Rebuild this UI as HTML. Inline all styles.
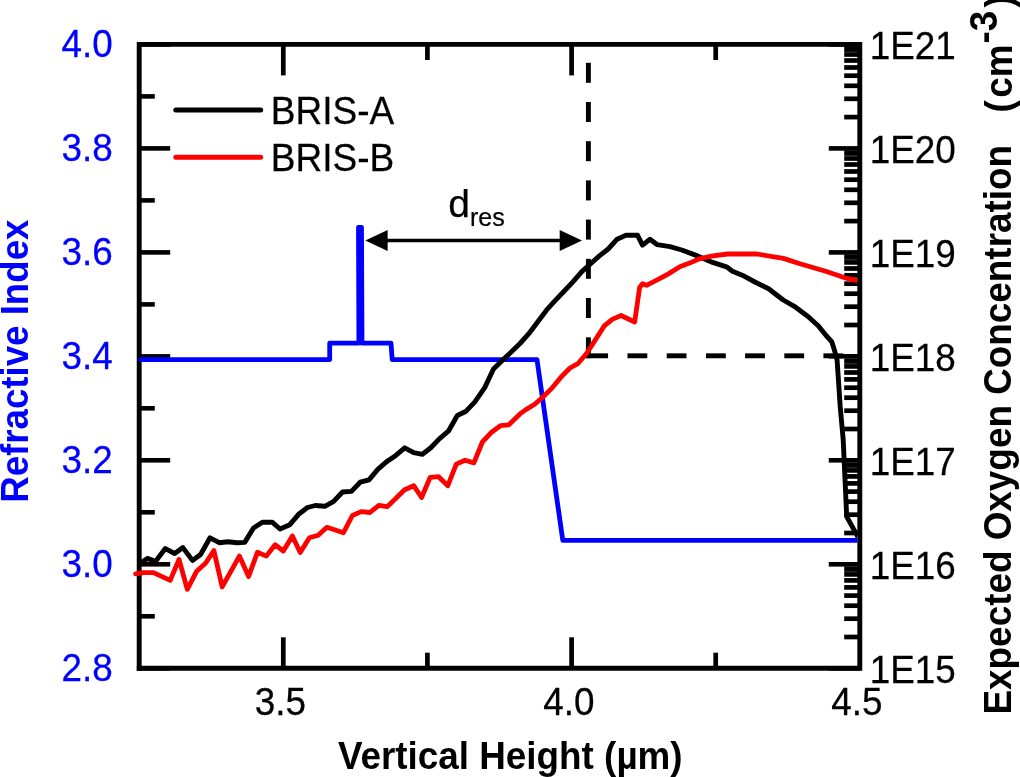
<!DOCTYPE html>
<html lang="en"><head><meta charset="utf-8"><title>Refractive index and oxygen concentration</title>
<style>html,body{margin:0;padding:0;background:#fff}body{width:1020px;height:777px;overflow:hidden}svg{display:block}text{font-family:"Liberation Sans",sans-serif}</style></head><body>
<svg width="1020" height="777" viewBox="0 0 1020 777">
<rect width="1020" height="777" fill="#fff"/>
<defs><clipPath id="c1"><rect x="138.8" y="0" width="718.6" height="777"/></clipPath><clipPath id="c2"><rect x="130" y="0" width="727.4" height="777"/></clipPath></defs>
<g stroke="#000" stroke-width="4.9" fill="none" stroke-linecap="butt">
<polyline points="859.8,44.4 139.2,44.4 139.2,670.8" />
<line x1="136.8" y1="668.3" x2="859.8" y2="668.3"/>
<line x1="139.2" y1="668.3" x2="170.2" y2="668.3" stroke-width="4.6"/>
<line x1="139.2" y1="616.3" x2="154.8" y2="616.3" stroke-width="4.6"/>
<line x1="139.2" y1="564.3" x2="170.2" y2="564.3" stroke-width="4.6"/>
<line x1="139.2" y1="512.3" x2="154.8" y2="512.3" stroke-width="4.6"/>
<line x1="139.2" y1="460.3" x2="170.2" y2="460.3" stroke-width="4.6"/>
<line x1="139.2" y1="408.3" x2="154.8" y2="408.3" stroke-width="4.6"/>
<line x1="139.2" y1="356.4" x2="170.2" y2="356.4" stroke-width="4.6"/>
<line x1="139.2" y1="304.4" x2="154.8" y2="304.4" stroke-width="4.6"/>
<line x1="139.2" y1="252.4" x2="170.2" y2="252.4" stroke-width="4.6"/>
<line x1="139.2" y1="200.4" x2="154.8" y2="200.4" stroke-width="4.6"/>
<line x1="139.2" y1="148.4" x2="170.2" y2="148.4" stroke-width="4.6"/>
<line x1="139.2" y1="96.4" x2="154.8" y2="96.4" stroke-width="4.6"/>
<line x1="139.2" y1="44.4" x2="170.2" y2="44.4" stroke-width="4.6"/>
<line x1="283.3" y1="668.3" x2="283.3" y2="637.3" stroke-width="4.7"/>
<line x1="283.3" y1="44.4" x2="283.3" y2="75.4" stroke-width="4.7"/>
<line x1="427.4" y1="668.3" x2="427.4" y2="652.7" stroke-width="4.7"/>
<line x1="427.4" y1="44.4" x2="427.4" y2="60.0" stroke-width="4.7"/>
<line x1="571.6" y1="668.3" x2="571.6" y2="637.3" stroke-width="4.7"/>
<line x1="571.6" y1="44.4" x2="571.6" y2="75.4" stroke-width="4.7"/>
<line x1="715.7" y1="668.3" x2="715.7" y2="652.7" stroke-width="4.7"/>
<line x1="715.7" y1="44.4" x2="715.7" y2="60.0" stroke-width="4.7"/>
</g>
<polyline clip-path="url(#c1)" points="139.2,359.6 329.7,359.6 329.7,343.2 358.9,343.2 358.5,227.4 361.5,227.4 362.0,343.2 391.0,343.2 392.2,359.6 537.0,359.6 562.8,540.4 859.8,540.4" fill="none" stroke="#0000ff" stroke-width="4.8" stroke-linejoin="round"/>
<g stroke="#000" fill="none">
<line x1="859.8" y1="668.3" x2="828.8" y2="668.3" stroke-width="4.6"/>
<line x1="859.8" y1="637.0" x2="844.2" y2="637.0" stroke-width="4.7"/>
<line x1="859.8" y1="618.7" x2="844.2" y2="618.7" stroke-width="4.7"/>
<line x1="859.8" y1="605.7" x2="844.2" y2="605.7" stroke-width="4.7"/>
<line x1="859.8" y1="595.6" x2="844.2" y2="595.6" stroke-width="4.7"/>
<line x1="859.8" y1="587.4" x2="844.2" y2="587.4" stroke-width="4.7"/>
<line x1="859.8" y1="580.4" x2="844.2" y2="580.4" stroke-width="4.7"/>
<line x1="859.8" y1="574.4" x2="844.2" y2="574.4" stroke-width="4.7"/>
<line x1="859.8" y1="569.1" x2="844.2" y2="569.1" stroke-width="5.5"/>
<line x1="859.8" y1="564.3" x2="828.8" y2="564.3" stroke-width="4.6"/>
<line x1="859.8" y1="533.0" x2="844.2" y2="533.0" stroke-width="4.7"/>
<line x1="859.8" y1="514.7" x2="844.2" y2="514.7" stroke-width="4.7"/>
<line x1="859.8" y1="501.7" x2="844.2" y2="501.7" stroke-width="4.7"/>
<line x1="859.8" y1="491.6" x2="844.2" y2="491.6" stroke-width="4.7"/>
<line x1="859.8" y1="483.4" x2="844.2" y2="483.4" stroke-width="4.7"/>
<line x1="859.8" y1="476.4" x2="844.2" y2="476.4" stroke-width="4.7"/>
<line x1="859.8" y1="470.4" x2="844.2" y2="470.4" stroke-width="4.7"/>
<line x1="859.8" y1="465.1" x2="844.2" y2="465.1" stroke-width="5.5"/>
<line x1="859.8" y1="460.3" x2="828.8" y2="460.3" stroke-width="4.6"/>
<line x1="859.8" y1="429.0" x2="844.2" y2="429.0" stroke-width="4.7"/>
<line x1="859.8" y1="410.7" x2="844.2" y2="410.7" stroke-width="4.7"/>
<line x1="859.8" y1="397.7" x2="844.2" y2="397.7" stroke-width="4.7"/>
<line x1="859.8" y1="387.7" x2="844.2" y2="387.7" stroke-width="4.7"/>
<line x1="859.8" y1="379.4" x2="844.2" y2="379.4" stroke-width="4.7"/>
<line x1="859.8" y1="372.5" x2="844.2" y2="372.5" stroke-width="4.7"/>
<line x1="859.8" y1="366.4" x2="844.2" y2="366.4" stroke-width="4.7"/>
<line x1="859.8" y1="361.1" x2="844.2" y2="361.1" stroke-width="5.5"/>
<line x1="859.8" y1="356.3" x2="828.8" y2="356.3" stroke-width="4.6"/>
<line x1="859.8" y1="325.0" x2="844.2" y2="325.0" stroke-width="4.7"/>
<line x1="859.8" y1="306.7" x2="844.2" y2="306.7" stroke-width="4.7"/>
<line x1="859.8" y1="293.7" x2="844.2" y2="293.7" stroke-width="4.7"/>
<line x1="859.8" y1="283.7" x2="844.2" y2="283.7" stroke-width="4.7"/>
<line x1="859.8" y1="275.4" x2="844.2" y2="275.4" stroke-width="4.7"/>
<line x1="859.8" y1="268.5" x2="844.2" y2="268.5" stroke-width="4.7"/>
<line x1="859.8" y1="262.4" x2="844.2" y2="262.4" stroke-width="4.7"/>
<line x1="859.8" y1="257.1" x2="844.2" y2="257.1" stroke-width="5.5"/>
<line x1="859.8" y1="252.4" x2="828.8" y2="252.4" stroke-width="4.6"/>
<line x1="859.8" y1="221.1" x2="844.2" y2="221.1" stroke-width="4.7"/>
<line x1="859.8" y1="202.8" x2="844.2" y2="202.8" stroke-width="4.7"/>
<line x1="859.8" y1="189.8" x2="844.2" y2="189.8" stroke-width="4.7"/>
<line x1="859.8" y1="179.7" x2="844.2" y2="179.7" stroke-width="4.7"/>
<line x1="859.8" y1="171.5" x2="844.2" y2="171.5" stroke-width="4.7"/>
<line x1="859.8" y1="164.5" x2="844.2" y2="164.5" stroke-width="4.7"/>
<line x1="859.8" y1="158.5" x2="844.2" y2="158.5" stroke-width="4.7"/>
<line x1="859.8" y1="153.1" x2="844.2" y2="153.1" stroke-width="5.5"/>
<line x1="859.8" y1="148.4" x2="828.8" y2="148.4" stroke-width="4.6"/>
<line x1="859.8" y1="117.1" x2="844.2" y2="117.1" stroke-width="4.7"/>
<line x1="859.8" y1="98.8" x2="844.2" y2="98.8" stroke-width="4.7"/>
<line x1="859.8" y1="85.8" x2="844.2" y2="85.8" stroke-width="4.7"/>
<line x1="859.8" y1="75.7" x2="844.2" y2="75.7" stroke-width="4.7"/>
<line x1="859.8" y1="67.5" x2="844.2" y2="67.5" stroke-width="4.7"/>
<line x1="859.8" y1="60.5" x2="844.2" y2="60.5" stroke-width="4.7"/>
<line x1="859.8" y1="54.5" x2="844.2" y2="54.5" stroke-width="4.7"/>
<line x1="859.8" y1="49.2" x2="844.2" y2="49.2" stroke-width="5.5"/>
<line x1="859.8" y1="44.4" x2="828.8" y2="44.4" stroke-width="4.6"/>
</g>
<g fill="#000">
<rect x="585.95" y="62.8" width="4.9" height="20.0"/>
<rect x="585.95" y="102.0" width="4.9" height="20.0"/>
<rect x="585.95" y="141.2" width="4.9" height="20.0"/>
<rect x="585.95" y="180.4" width="4.9" height="20.0"/>
<rect x="585.95" y="219.6" width="4.9" height="20.0"/>
<rect x="585.95" y="258.8" width="4.9" height="20.0"/>
<rect x="585.95" y="298.0" width="4.9" height="20.0"/>
<rect x="585.95" y="337.3" width="4.9" height="20.9"/>
<rect x="585.85" y="353.35" width="22.2" height="4.9"/>
<rect x="627.50" y="353.35" width="19.8" height="4.9"/>
<rect x="666.70" y="353.35" width="19.8" height="4.9"/>
<rect x="706.00" y="353.35" width="19.8" height="4.9"/>
<rect x="745.10" y="353.35" width="19.8" height="4.9"/>
<rect x="784.30" y="353.35" width="19.8" height="4.9"/>
<rect x="823.40" y="353.35" width="19.8" height="4.9"/>
</g>
<g clip-path="url(#c2)">
<polyline points="138.8,564.3 147.3,558.4 155.5,561.4 165.3,548.6 174.7,553.5 182.9,547.6 192.4,560.4 200.6,554.5 210.0,537.8 219.2,542.7 228.0,541.8 236.9,542.7 244.7,542.4 253.5,528.0 262.4,522.2 272.2,522.2 280.0,529.0 289.8,524.7 298.6,514.3 307.5,507.5 315.3,505.5 324.9,506.3 333.7,501.4 342.5,492.0 351.4,491.4 360.2,482.2 369.0,479.8 377.8,469.4 386.7,461.6 395.5,455.7 404.7,447.8 413.7,452.7 422.4,454.3 430.8,447.8 439.6,438.6 448.4,431.2 457.3,415.5 466.1,411.2 474.9,401.8 484.7,387.6 493.5,369.0 502.4,360.2 511.2,352.0 520.0,343.5 528.8,333.7 537.6,322.0 546.5,310.2 555.3,300.4 564.1,291.2 572.9,281.8 581.8,271.6 590.6,263.7 599.4,255.9 608.2,249.0 617.1,239.2 625.9,235.3 637.6,235.3 642.5,245.1 650.0,239.2 657.3,244.7 670.0,246.7 681.8,250.0 697.5,255.9 712.7,262.4 726.5,266.8 732.4,271.2 744.1,276.1 754.9,282.0 768.6,288.8 783.2,300.0 795.6,307.2 808.0,316.5 818.2,325.7 826.5,336.0 831.7,341.6 834.7,351.0 837.1,360.2 840.2,406.5 843.2,439.7 846.7,516.6 858.0,537.0" fill="none" stroke="#000" stroke-width="4.9" stroke-linejoin="round" stroke-linecap="butt"/>
<polyline points="135.6,573.9 143.5,572.7 153.4,572.6 170.2,580.4 179.0,559.4 187.3,589.4 196.7,571.2 205.5,563.3 213.9,550.6 222.2,586.9 239.4,556.1 248.6,576.5 257.5,552.2 266.3,556.1 275.1,544.7 283.3,551.0 292.4,535.9 300.2,552.5 309.4,537.8 318.2,535.3 326.9,527.3 343.5,532.7 352.4,515.5 361.2,511.6 370.0,512.5 378.8,505.3 387.1,506.7 395.5,498.8 404.3,490.0 413.7,485.7 421.6,497.5 430.2,477.3 438.6,476.7 447.8,485.7 456.3,464.1 465.1,460.2 473.9,462.9 482.4,442.0 491.6,432.2 500.4,425.7 508.6,424.9 520.0,413.9 525.9,409.6 534.7,404.3 543.5,396.5 552.4,387.6 561.2,376.9 570.0,368.0 577.8,363.7 586.7,353.3 595.5,339.6 604.3,325.9 612.2,319.4 621.0,315.5 634.7,322.0 639.6,287.5 642.5,283.8 646.5,285.3 658.2,279.4 668.0,274.1 679.8,266.7 689.6,263.1 699.4,258.8 711.2,256.2 727.5,254.0 756.9,254.0 783.3,258.4 800.0,263.8 826.5,271.5 847.0,278.4 860.0,281.2" fill="none" stroke="#ff0000" stroke-width="4.8" stroke-linejoin="round" stroke-linecap="round"/>
</g>
<line x1="859.8" y1="41.9" x2="859.8" y2="670.8" stroke="#000" stroke-width="4.9"/>
<line x1="380" y1="240.4" x2="568" y2="240.4" stroke="#000" stroke-width="3.5"/>
<polygon points="365.3,240.4 387.6,229.9 387.6,250.9" fill="#000"/>
<polygon points="582.0,240.4 559.7,229.9 559.7,250.9" fill="#000"/>
<line x1="175.8" y1="110.1" x2="260.7" y2="110.1" stroke="#000" stroke-width="5" stroke-linecap="round"/>
<line x1="175.8" y1="157.2" x2="260.7" y2="157.2" stroke="#ff0000" stroke-width="5" stroke-linecap="round"/>
<text transform="translate(270.8,123.8) scale(0.952,1)" text-anchor="start" fill="#000" font-size="38.9" stroke="#000" stroke-width="0.25">BRIS-A</text>
<text transform="translate(270.8,170.5) scale(0.952,1)" text-anchor="start" fill="#000" font-size="38.9" stroke="#000" stroke-width="0.25">BRIS-B</text>
<text transform="translate(448.3,216.7) scale(1.000,1)" text-anchor="start" fill="#000" font-size="39" stroke="#000" stroke-width="0.25">d</text>
<text transform="translate(470.0,225.6) scale(0.980,1)" text-anchor="start" fill="#000" font-size="25.5" stroke="#000" stroke-width="0.25">res</text>
<text transform="translate(112.7,680.6) scale(0.948,1)" text-anchor="end" fill="#0000ff" font-size="38.9" stroke="#0000ff" stroke-width="0.25">2.8</text>
<text transform="translate(112.7,576.6) scale(0.948,1)" text-anchor="end" fill="#0000ff" font-size="38.9" stroke="#0000ff" stroke-width="0.25">3.0</text>
<text transform="translate(112.7,472.6) scale(0.948,1)" text-anchor="end" fill="#0000ff" font-size="38.9" stroke="#0000ff" stroke-width="0.25">3.2</text>
<text transform="translate(112.7,368.7) scale(0.948,1)" text-anchor="end" fill="#0000ff" font-size="38.9" stroke="#0000ff" stroke-width="0.25">3.4</text>
<text transform="translate(112.7,264.7) scale(0.948,1)" text-anchor="end" fill="#0000ff" font-size="38.9" stroke="#0000ff" stroke-width="0.25">3.6</text>
<text transform="translate(112.7,160.7) scale(0.948,1)" text-anchor="end" fill="#0000ff" font-size="38.9" stroke="#0000ff" stroke-width="0.25">3.8</text>
<text transform="translate(112.7,56.7) scale(0.948,1)" text-anchor="end" fill="#0000ff" font-size="38.9" stroke="#0000ff" stroke-width="0.25">4.0</text>
<text transform="translate(869.7,683.3) scale(0.948,1)" text-anchor="start" fill="#000" font-size="38.9" stroke="#000" stroke-width="0.25">1E15</text>
<text transform="translate(869.7,579.3) scale(0.948,1)" text-anchor="start" fill="#000" font-size="38.9" stroke="#000" stroke-width="0.25">1E16</text>
<text transform="translate(869.7,475.3) scale(0.948,1)" text-anchor="start" fill="#000" font-size="38.9" stroke="#000" stroke-width="0.25">1E17</text>
<text transform="translate(869.7,371.3) scale(0.948,1)" text-anchor="start" fill="#000" font-size="38.9" stroke="#000" stroke-width="0.25">1E18</text>
<text transform="translate(869.7,267.4) scale(0.948,1)" text-anchor="start" fill="#000" font-size="38.9" stroke="#000" stroke-width="0.25">1E19</text>
<text transform="translate(869.7,163.4) scale(0.948,1)" text-anchor="start" fill="#000" font-size="38.9" stroke="#000" stroke-width="0.25">1E20</text>
<text transform="translate(869.7,59.4) scale(0.948,1)" text-anchor="start" fill="#000" font-size="38.9" stroke="#000" stroke-width="0.25">1E21</text>
<text transform="translate(280.5,714.8) scale(0.948,1)" text-anchor="middle" fill="#000" font-size="38.9" stroke="#000" stroke-width="0.25">3.5</text>
<text transform="translate(568.8,714.8) scale(0.948,1)" text-anchor="middle" fill="#000" font-size="38.9" stroke="#000" stroke-width="0.25">4.0</text>
<text transform="translate(857.0,714.8) scale(0.948,1)" text-anchor="middle" fill="#000" font-size="38.9" stroke="#000" stroke-width="0.25">4.5</text>
<text transform="translate(337.9,768.6) scale(0.970,1)" text-anchor="start" fill="#000" font-size="38" font-weight="bold">Vertical Height (µm)</text>
<text transform="translate(27.8,502.8) rotate(-90) scale(0.965,1)" text-anchor="start" fill="#0000ff" font-size="38" font-weight="bold">Refractive Index</text>
<text transform="translate(1011.2,714.5) rotate(-90) scale(0.958,1)" text-anchor="start" fill="#000" font-size="38.5" font-weight="bold">Expected Oxygen Concentration</text>
<text transform="translate(1011.8,112.5) rotate(-90) scale(0.970,1)" text-anchor="start" fill="#000" font-size="38" font-weight="bold">(</text>
<text transform="translate(1011.8,97.8) rotate(-90) scale(0.970,1)" text-anchor="start" fill="#000" font-size="38" font-weight="bold">cm</text>
<text transform="translate(997.1,43.5) rotate(-90) scale(0.970,1)" text-anchor="start" fill="#000" font-size="38" font-weight="bold">-3</text>
<text transform="translate(1011.8,7.5) rotate(-90) scale(0.970,1)" text-anchor="start" fill="#000" font-size="38" font-weight="bold">)</text>
</svg></body></html>
